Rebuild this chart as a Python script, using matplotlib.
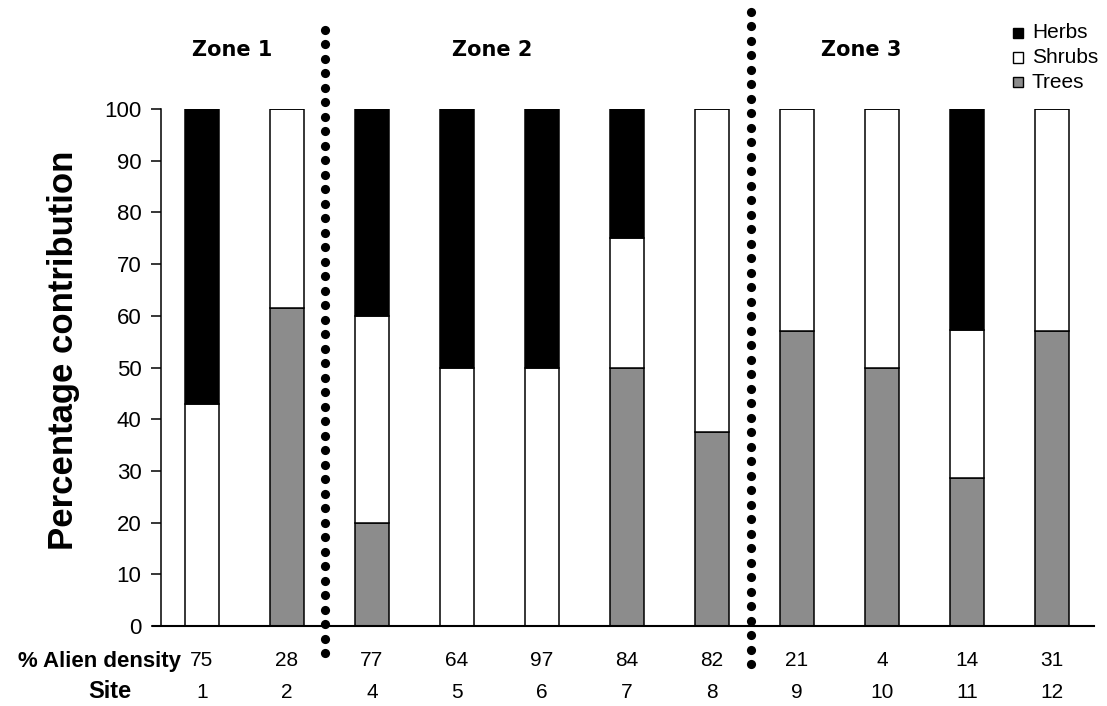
import matplotlib
matplotlib.use('Agg')
import matplotlib.pyplot as plt
import numpy as np
from matplotlib.patches import Rectangle
plt.rcParams['font.family'] = ['Liberation Sans', 'DejaVu Sans']

sites = ['1', '2', '4', '5', '6', '7', '8', '9', '10', '11', '12']
alien_density = ['75', '28', '77', '64', '97', '84', '82', '21', '4', '14', '31']
trees  = [0, 61.5, 20, 0, 0, 50, 37.5, 57.1, 50, 28.6, 57.1]
shrubs = [42.9, 38.5, 40, 50, 50, 25, 62.5, 42.9, 50, 28.6, 42.9]
herbs  = [57.1, 0, 40, 50, 50, 25, 0, 0, 0, 42.8, 0]
zones = ['Zone 1', 'Zone 2', 'Zone 3']

W, H = 1107, 706
fig = plt.figure(figsize=(W/100, H/100), dpi=100)
ax = fig.add_axes([161/W, 1-626/H, (1094-161)/W, (626-109)/H])

x = np.arange(len(sites))
bw = 0.41
kw = dict(width=bw, edgecolor='black', linewidth=1.1, zorder=2)
ax.bar(x, trees, color='#8c8c8c', label='Trees', **kw)
ax.bar(x, shrubs, bottom=trees, color='white', label='Shrubs', **kw)
ax.bar(x, herbs, bottom=np.array(trees)+np.array(shrubs), color='black', label='Herbs', **kw)

ax.set_xlim(-0.482, 10.494)
ax.set_ylim(0, 100)
ax.set_yticks(range(0, 101, 10))
ax.tick_params(axis='y', labelsize=16, length=7, width=1.1, pad=7, direction='out')
ax.set_xticks([])
for s in ['top', 'right']:
    ax.spines[s].set_visible(False)
ax.spines['left'].set_linewidth(1.1)
ax.spines['bottom'].set_linewidth(1.5)
ax.spines['bottom'].set_bounds(-0.58, 10.494)
ax.spines['bottom'].set_zorder(3)
ax.set_ylabel('Percentage contribution', fontsize=25, fontweight='bold')
ax.yaxis.set_label_coords(-0.087, 0.534)

# zone dividers: round dots, ~14.5 px apart
step = 14.5 / 5.17
for xd, ytop in [(1.447, 115.3), (6.46, 118.8)]:
    yd = np.arange(ytop, -7.6, -step)
    ax.plot(np.full_like(yd, xd), yd, 'o', color='black', ms=6.6, mew=0,
            clip_on=False, zorder=4)

# zone labels
for zx, zl in zip([0.36, 3.41, 7.76], zones):
    ax.text(zx, 111.5, zl, ha='center', va='center', fontsize=15, fontweight='bold',
            family='Liberation Sans Narrow')

# bottom rows
for xi, d, s in zip(x, alien_density, sites):
    ax.text(xi, -6.7, d, ha='center', va='center', fontsize=15)
    ax.text(xi, -12.8, s, ha='center', va='center', fontsize=15)
fig.text(181/W, 1-661/H, '% Alien density', ha='right', va='center', fontsize=16, fontweight='bold')
fig.text(110/W, 1-692/H, 'Site', ha='center', va='center', fontsize=17, fontweight='bold')

# legend
for i, (lab, c) in enumerate([('Herbs', 'black'), ('Shrubs', 'white'), ('Trees', '#8c8c8c')]):
    yy = 33 + i*24.5
    fig.patches.append(Rectangle((1013/W, 1-(yy+5)/H), 10/W, 10/H, transform=fig.transFigure,
                                 facecolor=c, edgecolor='black', linewidth=1.0))
    fig.text(1032/W, 1-yy/H, lab, ha='left', va='center', fontsize=15)

plt.savefig('out.png', dpi=100, facecolor='white')
